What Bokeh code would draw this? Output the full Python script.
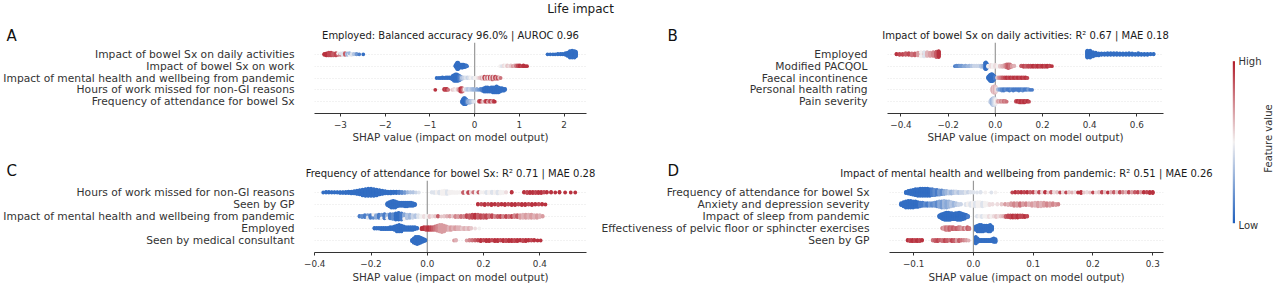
import numpy as np
from bokeh.plotting import figure
from bokeh.models import Range1d, FixedTicker, Span, ColumnDataSource, LinearColorMapper, GridBox
from bokeh.embed import file_html
from bokeh.resources import INLINE
from bokeh.core.properties import value

FONT = "DejaVu Sans"

# ---------------- texts ----------------
SUPTITLE = "Life impact"
XLABEL = "SHAP value (impact on model output)"
CBAR_LABEL = "Feature value"
CBAR_HIGH = "High"
CBAR_LOW = "Low"
LETTERS = ["A", "B", "C", "D"]

# ---------------- panel A ----------------
A_TITLE = "Employed: Balanced accuracy 96.0% | AUROC 0.96"
A_FEATURES = ["Impact of bowel Sx on daily activities", "Impact of bowel Sx on work",
              "Impact of mental health and wellbeing from pandemic",
              "Hours of work missed for non-GI reasons", "Frequency of attendance for bowel Sx"]
A_TICKS = [-3, -2, -1, 0, 1, 2]
A_TICK_LABELS = ["−3", "−2", "−1", "0", "1", "2"]
A_XLIM = (-3.58, 2.50)

# each row: (shap value, number of points, feature value 0=low..1=high)
a_daily = [(-3.36, 3, 0.95), (-3.31, 5, 0.95), (-3.26, 6, 0.9), (-3.21, 6, 0.9), (-3.16, 5, 0.85),
           (-3.10, 5, 0.9), (-3.05, 3, 0.8), (-3.05, 1, 0.5), (-3.00, 3, 0.75), (-3.00, 1, 0.45),
           (-2.95, 2, 0.65), (-2.95, 2, 0.45), (-2.90, 2, 0.55), (-2.90, 2, 0.85), (-2.85, 2, 0.5),
           (-2.85, 2, 0.3), (-2.80, 3, 0.5), (-2.80, 1, 0.3), (-2.75, 3, 0.45), (-2.70, 2, 0.35),
           (-2.64, 2, 0.2), (-2.58, 1, 0.1), (-2.49, 1, 0.05),
           (1.63, 1, 0.05), (1.69, 1, 0.05), (1.75, 1, 0.05), (1.80, 1, 0.05), (1.86, 2, 0.05),
           (1.92, 2, 0.05), (1.97, 2, 0.05), (2.03, 4, 0.05), (2.08, 7, 0.05), (2.13, 13, 0.05),
           (2.18, 14, 0.05), (2.23, 13, 0.05), (2.26, 10, 0.05)]
a_work = [(-0.43, 2, 0.05), (-0.41, 6, 0.05), (-0.39, 10, 0.05), (-0.37, 10, 0.05), (-0.35, 7, 0.05),
          (-0.33, 4, 0.05), (-0.31, 3, 0.05), (-0.29, 5, 0.05), (-0.27, 5, 0.05), (-0.25, 4, 0.05),
          (-0.23, 3, 0.05), (-0.21, 3, 0.05), (-0.19, 2, 0.05), (-0.17, 1, 0.08),
          (0.57, 1, 0.5), (0.61, 1, 0.45), (0.65, 2, 0.55), (0.69, 2, 0.5), (0.73, 2, 0.6),
          (0.77, 1, 0.55), (0.81, 2, 0.6), (0.85, 1, 0.7), (0.89, 2, 0.65), (0.93, 2, 0.8),
          (0.97, 2, 0.9), (1.01, 2, 0.95), (1.05, 1, 0.9), (1.09, 2, 0.95), (1.13, 1, 0.95), (1.17, 1, 0.95)]
a_mental = [(-0.85, 1, 0.05), (-0.80, 1, 0.05), (-0.76, 1, 0.05), (-0.72, 2, 0.05), (-0.68, 1, 0.05),
            (-0.64, 2, 0.05), (-0.60, 2, 0.05), (-0.56, 2, 0.05), (-0.52, 3, 0.05), (-0.49, 6, 0.05),
            (-0.46, 9, 0.05), (-0.43, 10, 0.05), (-0.40, 10, 0.05), (-0.37, 9, 0.05), (-0.34, 7, 0.1),
            (-0.31, 5, 0.2), (-0.28, 3, 0.35), (-0.24, 2, 0.4), (-0.20, 2, 0.45), (-0.16, 2, 0.4),
            (-0.12, 2, 0.45), (-0.08, 2, 0.5), (-0.04, 1, 0.45), (0.00, 1, 0.5), (0.04, 2, 0.5),
            (0.08, 1, 0.55), (0.12, 2, 0.6), (0.16, 3, 0.65), (0.19, 4, 0.55), (0.22, 4, 0.9),
            (0.25, 3, 0.6), (0.28, 4, 0.8), (0.31, 3, 0.55), (0.34, 4, 0.9), (0.37, 5, 0.6),
            (0.40, 5, 0.85), (0.43, 4, 0.6), (0.46, 4, 0.9), (0.49, 3, 0.7), (0.52, 3, 0.9),
            (0.55, 2, 0.6), (0.58, 1, 0.8)]
a_hours = [(-0.88, 1, 0.95), (-0.68, 2, 0.95), (-0.65, 2, 0.9), (-0.62, 2, 0.95), (-0.59, 1, 0.8),
           (-0.50, 1, 0.6), (-0.46, 2, 0.55), (-0.42, 1, 0.5), (-0.38, 2, 0.6), (-0.34, 3, 0.8),
           (-0.31, 5, 0.95), (-0.28, 5, 0.9), (-0.25, 3, 0.7), (-0.22, 2, 0.5), (-0.19, 2, 0.4),
           (-0.15, 2, 0.35), (-0.11, 2, 0.4), (-0.07, 2, 0.35), (-0.03, 2, 0.3), (0.01, 1, 0.3),
           (0.05, 2, 0.25), (0.09, 1, 0.2), (0.13, 2, 0.15), (0.17, 3, 0.1), (0.21, 5, 0.05),
           (0.25, 6, 0.05), (0.29, 6, 0.05), (0.33, 5, 0.05), (0.37, 6, 0.05), (0.41, 7, 0.05),
           (0.45, 7, 0.05), (0.49, 8, 0.05), (0.53, 7, 0.05), (0.57, 5, 0.05), (0.61, 4, 0.05),
           (0.65, 3, 0.05), (0.68, 2, 0.05)]
a_freq = [(-0.28, 3, 0.05), (-0.26, 6, 0.05), (-0.24, 8, 0.05), (-0.22, 8, 0.05), (-0.20, 7, 0.05),
          (-0.18, 5, 0.1), (-0.16, 3, 0.2), (-0.14, 3, 0.3), (-0.12, 3, 0.25), (-0.10, 3, 0.3),
          (-0.08, 2, 0.35), (-0.06, 2, 0.35), (-0.04, 2, 0.4), (-0.02, 1, 0.45),
          (0.10, 2, 0.9), (0.13, 2, 0.95), (0.17, 1, 0.7), (0.20, 1, 0.6), (0.24, 2, 0.9),
          (0.27, 2, 0.95), (0.30, 1, 0.6), (0.33, 2, 0.85), (0.36, 2, 0.9), (0.39, 1, 0.6),
          (0.42, 2, 0.9), (0.45, 1, 0.95)]
A_ROWS = [a_daily, a_work, a_mental, a_hours, a_freq]

# ---------------- panel B ----------------
B_TITLE = "Impact of bowel Sx on daily activities: R² 0.67 | MAE 0.18"
B_FEATURES = ["Employed", "Modified PACQOL", "Faecal incontinence", "Personal health rating", "Pain severity"]
B_TICKS = [-0.4, -0.2, 0.0, 0.2, 0.4, 0.6]
B_TICK_LABELS = ["−0.4", "−0.2", "0.0", "0.2", "0.4", "0.6"]
B_XLIM = (-0.457, 0.713)

b_employed = [(-0.419, 2, 0.95), (-0.406, 3, 0.9), (-0.393, 3, 0.9), (-0.380, 4, 0.85), (-0.367, 4, 0.9),
              (-0.354, 5, 0.8), (-0.341, 5, 0.85), (-0.328, 6, 0.7), (-0.315, 6, 0.65), (-0.315, 3, 0.5),
              (-0.302, 6, 0.6), (-0.302, 3, 0.45), (-0.289, 8, 0.65), (-0.276, 7, 0.7), (-0.263, 8, 0.75),
              (-0.250, 11, 0.85), (-0.240, 12, 0.95),
              (0.390, 14, 0.05), (0.402, 14, 0.05), (0.414, 9, 0.05), (0.426, 6, 0.05), (0.438, 5, 0.05),
              (0.450, 4, 0.05), (0.463, 4, 0.05), (0.476, 4, 0.05), (0.489, 4, 0.05), (0.502, 4, 0.05),
              (0.515, 4, 0.05), (0.528, 4, 0.05), (0.541, 4, 0.05), (0.554, 4, 0.05), (0.567, 4, 0.05),
              (0.580, 4, 0.05), (0.593, 3, 0.05), (0.606, 4, 0.05), (0.619, 3, 0.05), (0.632, 3, 0.05),
              (0.645, 3, 0.05), (0.658, 2, 0.05), (0.671, 2, 0.05)]
b_pacqol = [(-0.171, 1, 0.1), (-0.164, 2, 0.15), (-0.157, 2, 0.15), (-0.150, 2, 0.2), (-0.142, 2, 0.2),
            (-0.134, 1, 0.25), (-0.126, 2, 0.25), (-0.118, 1, 0.3), (-0.110, 2, 0.3), (-0.100, 2, 0.35),
            (-0.090, 2, 0.4), (-0.080, 2, 0.4), (-0.070, 2, 0.4), (-0.060, 3, 0.35), (-0.051, 3, 0.3),
            (-0.044, 10, 0.1), (-0.040, 12, 0.05), (-0.036, 8, 0.05),
            (-0.030, 3, 0.5), (-0.020, 4, 0.55), (-0.010, 5, 0.5), (0.000, 4, 0.55), (0.010, 3, 0.5),
            (0.020, 3, 0.6), (0.030, 3, 0.65), (0.040, 4, 0.7), (0.048, 6, 0.8), (0.055, 7, 0.85),
            (0.062, 6, 0.8), (0.070, 3, 0.7), (0.080, 2, 0.65),
            (0.110, 2, 0.85), (0.120, 3, 0.9), (0.130, 3, 0.85), (0.140, 3, 0.9), (0.150, 3, 0.9),
            (0.160, 3, 0.95), (0.170, 3, 0.9), (0.180, 3, 0.95), (0.190, 3, 0.9), (0.200, 3, 0.95),
            (0.210, 3, 0.9), (0.220, 3, 0.95), (0.230, 2, 0.9), (0.240, 1, 0.95)]
b_faecal = [(-0.030, 4, 0.05), (-0.026, 8, 0.05), (-0.022, 12, 0.05), (-0.018, 14, 0.05), (-0.014, 14, 0.05),
            (-0.010, 12, 0.05), (-0.006, 8, 0.05), (-0.002, 4, 0.1),
            (0.008, 2, 0.6), (0.014, 2, 0.7), (0.020, 2, 0.75), (0.026, 2, 0.8), (0.032, 2, 0.85),
            (0.040, 2, 0.9), (0.048, 2, 0.95), (0.056, 2, 0.9), (0.064, 2, 0.95), (0.072, 2, 0.9),
            (0.080, 2, 0.95), (0.088, 2, 0.9), (0.096, 2, 0.95), (0.104, 2, 0.9), (0.112, 2, 0.95),
            (0.120, 2, 0.9), (0.128, 2, 0.95), (0.136, 1, 0.9)]
b_health = [(-0.014, 4, 0.6), (-0.010, 8, 0.65), (-0.006, 10, 0.6), (-0.002, 10, 0.65), (0.002, 8, 0.6),
            (0.006, 4, 0.55),
            (0.012, 2, 0.3), (0.020, 2, 0.2), (0.028, 3, 0.15), (0.036, 3, 0.1), (0.044, 2, 0.15),
            (0.052, 2, 0.1), (0.060, 3, 0.1), (0.068, 2, 0.15), (0.076, 3, 0.1), (0.084, 2, 0.1),
            (0.092, 2, 0.1), (0.100, 3, 0.1), (0.108, 2, 0.1), (0.116, 3, 0.15), (0.124, 2, 0.1),
            (0.132, 2, 0.1), (0.140, 2, 0.2), (0.148, 1, 0.1), (0.156, 1, 0.1)]
b_pain = [(-0.021, 3, 0.4), (-0.017, 6, 0.35), (-0.013, 9, 0.3), (-0.009, 11, 0.35), (-0.005, 11, 0.4),
          (-0.001, 9, 0.45), (0.003, 6, 0.5), (0.007, 3, 0.55),
          (0.012, 2, 0.7), (0.018, 2, 0.65), (0.024, 2, 0.75), (0.030, 2, 0.7), (0.036, 2, 0.8),
          (0.042, 2, 0.75), (0.048, 1, 0.8),
          (0.088, 2, 0.9), (0.095, 2, 0.95), (0.102, 3, 0.9), (0.109, 3, 0.95), (0.116, 3, 0.9),
          (0.123, 3, 0.95), (0.130, 2, 0.9), (0.137, 2, 0.95), (0.143, 1, 0.9)]
B_ROWS = [b_employed, b_pacqol, b_faecal, b_health, b_pain]

# ---------------- panel C ----------------
C_TITLE = "Frequency of attendance for bowel Sx: R² 0.71 | MAE 0.28"
C_FEATURES = ["Hours of work missed for non-GI reasons", "Seen by GP",
              "Impact of mental health and wellbeing from pandemic", "Employed", "Seen by medical consultant"]
C_TICKS = [-0.4, -0.2, 0.0, 0.2, 0.4]
C_TICK_LABELS = ["−0.4", "−0.2", "0.0", "0.2", "0.4"]
C_XLIM = (-0.401, 0.566)

c_hours = [(-0.37, 1, 0.05), (-0.36, 2, 0.05), (-0.35, 2, 0.05), (-0.34, 2, 0.05), (-0.33, 2, 0.05),
           (-0.32, 2, 0.05), (-0.31, 3, 0.05), (-0.30, 3, 0.05), (-0.29, 3, 0.05), (-0.28, 4, 0.05),
           (-0.27, 5, 0.05), (-0.26, 6, 0.05), (-0.25, 8, 0.05), (-0.24, 10, 0.05), (-0.23, 13, 0.05),
           (-0.22, 15, 0.05), (-0.21, 16, 0.05), (-0.20, 16, 0.05), (-0.19, 15, 0.05), (-0.18, 13, 0.05),
           (-0.17, 10, 0.05), (-0.16, 8, 0.05), (-0.15, 6, 0.05), (-0.14, 5, 0.05), (-0.13, 5, 0.05),
           (-0.12, 4, 0.05), (-0.11, 4, 0.05), (-0.10, 4, 0.1), (-0.09, 3, 0.15), (-0.08, 3, 0.2),
           (-0.07, 2, 0.3), (-0.06, 2, 0.35), (-0.05, 2, 0.35), (-0.04, 1, 0.4), (-0.03, 1, 0.45),
           (0.016, 2, 0.45), (0.025, 3, 0.45), (0.034, 4, 0.5), (0.043, 5, 0.45), (0.052, 7, 0.5),
           (0.061, 8, 0.5), (0.070, 7, 0.45), (0.079, 5, 0.5), (0.088, 4, 0.5), (0.097, 3, 0.5),
           (0.106, 3, 0.5), (0.115, 2, 0.5),
           (0.128, 3, 0.85), (0.137, 2, 0.5), (0.146, 3, 0.9), (0.155, 2, 0.55), (0.164, 2, 0.8),
           (0.173, 3, 0.5), (0.182, 2, 0.85), (0.190, 2, 0.5), (0.200, 2, 0.5), (0.210, 3, 0.45),
           (0.220, 3, 0.5), (0.230, 4, 0.45), (0.240, 4, 0.5), (0.250, 5, 0.45), (0.260, 5, 0.5),
           (0.270, 3, 0.5), (0.280, 2, 0.55), (0.300, 2, 0.95),
           (0.344, 2, 0.95), (0.355, 3, 0.9), (0.365, 3, 0.95), (0.375, 3, 0.95), (0.385, 3, 0.9),
           (0.395, 3, 0.95), (0.405, 3, 0.95), (0.415, 2, 0.9), (0.425, 2, 0.95), (0.440, 2, 0.95),
           (0.455, 1, 0.95), (0.470, 2, 0.95), (0.490, 1, 0.95), (0.510, 1, 0.95), (0.526, 1, 0.95)]
c_gp = [(-0.142, 4, 0.05), (-0.135, 8, 0.05), (-0.128, 11, 0.05), (-0.121, 12, 0.05), (-0.114, 11, 0.05),
        (-0.107, 8, 0.05), (-0.100, 6, 0.05), (-0.093, 6, 0.05), (-0.086, 6, 0.05), (-0.079, 7, 0.05),
        (-0.072, 7, 0.05), (-0.065, 6, 0.05), (-0.058, 6, 0.05), (-0.051, 5, 0.05), (-0.044, 3, 0.05),
        (0.180, 2, 0.95), (0.192, 2, 0.9), (0.204, 3, 0.95), (0.216, 2, 0.9), (0.228, 3, 0.95),
        (0.240, 2, 0.95), (0.252, 3, 0.9), (0.264, 2, 0.95), (0.276, 3, 0.95), (0.288, 2, 0.9),
        (0.300, 3, 0.95), (0.312, 3, 0.95), (0.324, 2, 0.9), (0.336, 3, 0.95), (0.348, 3, 0.95),
        (0.360, 2, 0.9), (0.372, 3, 0.95), (0.384, 2, 0.95), (0.396, 2, 0.9), (0.408, 2, 0.95),
        (0.420, 1, 0.95)]
c_mental = [(-0.241, 2, 0.1), (-0.232, 3, 0.15), (-0.222, 4, 0.1), (-0.212, 4, 0.2), (-0.212, 1, 0.45),
            (-0.202, 5, 0.1), (-0.192, 5, 0.15), (-0.192, 1, 0.5), (-0.182, 5, 0.25), (-0.172, 6, 0.1),
            (-0.162, 6, 0.2), (-0.162, 1, 0.5), (-0.152, 8, 0.1), (-0.142, 6, 0.3), (-0.142, 1, 0.5),
            (-0.132, 8, 0.1), (-0.122, 9, 0.15), (-0.112, 11, 0.05), (-0.102, 12, 0.05), (-0.092, 11, 0.1),
            (-0.082, 8, 0.25), (-0.082, 1, 0.5), (-0.072, 7, 0.35), (-0.062, 6, 0.3), (-0.052, 5, 0.4),
            (-0.042, 4, 0.35), (-0.032, 4, 0.45), (-0.022, 3, 0.5),
            (-0.012, 3, 0.55), (-0.002, 3, 0.5), (0.008, 3, 0.6), (0.018, 2, 0.55), (0.028, 2, 0.6),
            (0.038, 2, 0.85), (0.050, 1, 0.6), (0.060, 2, 0.6), (0.070, 2, 0.65), (0.080, 2, 0.7),
            (0.090, 2, 0.6), (0.100, 3, 0.75), (0.110, 3, 0.7), (0.120, 3, 0.8), (0.130, 3, 0.75),
            (0.140, 4, 0.9), (0.150, 5, 0.85), (0.160, 6, 0.9), (0.170, 6, 0.95), (0.180, 6, 0.85),
            (0.190, 5, 0.9), (0.200, 5, 0.85), (0.210, 5, 0.9), (0.220, 4, 0.8), (0.230, 4, 0.9),
            (0.240, 3, 0.75), (0.250, 3, 0.85), (0.260, 3, 0.9), (0.270, 3, 0.75), (0.280, 3, 0.9),
            (0.290, 3, 0.8), (0.300, 3, 0.9), (0.310, 4, 0.75), (0.320, 4, 0.85), (0.330, 5, 0.7),
            (0.340, 6, 0.65), (0.350, 6, 0.7), (0.360, 6, 0.65), (0.370, 6, 0.7), (0.380, 5, 0.65),
            (0.390, 5, 0.7), (0.400, 4, 0.65), (0.410, 2, 0.7)]
c_employed = [(-0.188, 2, 0.05), (-0.180, 2, 0.05), (-0.172, 2, 0.05), (-0.164, 3, 0.05), (-0.156, 3, 0.05),
              (-0.148, 3, 0.05), (-0.140, 3, 0.05), (-0.132, 4, 0.05), (-0.124, 4, 0.05), (-0.116, 6, 0.05),
              (-0.108, 9, 0.05), (-0.100, 10, 0.05), (-0.092, 9, 0.05), (-0.084, 6, 0.05), (-0.076, 5, 0.05),
              (-0.068, 5, 0.05), (-0.060, 5, 0.05), (-0.052, 5, 0.05), (-0.044, 4, 0.05), (-0.036, 2, 0.05),
              (-0.020, 3, 0.95), (-0.012, 4, 0.95), (-0.004, 5, 0.9), (0.004, 5, 0.95), (0.012, 5, 0.9),
              (0.020, 5, 0.85), (0.028, 6, 0.8), (0.036, 8, 0.75), (0.044, 10, 0.7), (0.052, 11, 0.7),
              (0.060, 9, 0.7), (0.068, 6, 0.7), (0.076, 5, 0.65), (0.084, 5, 0.7), (0.092, 4, 0.65),
              (0.100, 4, 0.7), (0.108, 4, 0.65), (0.116, 4, 0.65), (0.124, 3, 0.6), (0.132, 3, 0.65),
              (0.140, 3, 0.6), (0.148, 3, 0.65), (0.156, 2, 0.6), (0.170, 1, 0.55), (0.185, 1, 0.5)]
c_consult = [(-0.054, 3, 0.05), (-0.048, 7, 0.05), (-0.042, 10, 0.05), (-0.036, 11, 0.05), (-0.030, 10, 0.05),
             (-0.024, 8, 0.05), (-0.018, 6, 0.05), (-0.012, 4, 0.05), (-0.007, 2, 0.05),
             (0.095, 1, 0.7), (0.102, 2, 0.65), (0.140, 1, 0.7), (0.150, 2, 0.75), (0.160, 2, 0.8),
             (0.170, 2, 0.85), (0.180, 2, 0.9), (0.190, 3, 0.95), (0.200, 2, 0.9), (0.210, 3, 0.95),
             (0.220, 3, 0.95), (0.230, 2, 0.9), (0.240, 3, 0.95), (0.250, 3, 0.95), (0.260, 2, 0.9),
             (0.270, 3, 0.95), (0.280, 3, 0.9), (0.290, 3, 0.95), (0.300, 3, 0.95), (0.310, 3, 0.9),
             (0.320, 3, 0.95), (0.330, 2, 0.95), (0.340, 3, 0.9), (0.350, 3, 0.95), (0.360, 2, 0.95),
             (0.370, 2, 0.9), (0.380, 2, 0.95), (0.392, 1, 0.95), (0.403, 1, 0.95)]
C_ROWS = [c_hours, c_gp, c_mental, c_employed, c_consult]

# ---------------- panel D ----------------
D_TITLE = "Impact of mental health and wellbeing from pandemic: R² 0.51 | MAE 0.26"
D_FEATURES = ["Frequency of attendance for bowel Sx", "Anxiety and depression severity",
              "Impact of sleep from pandemic", "Effectiveness of pelvic floor or sphincter exercises", "Seen by GP"]
D_TICKS = [-0.1, 0.0, 0.1, 0.2, 0.3]
D_TICK_LABELS = ["−0.1", "0.0", "0.1", "0.2", "0.3"]
D_XLIM = (-0.1404, 0.318)

d_freq = [(-0.113, 3, 0.05), (-0.109, 6, 0.05), (-0.105, 8, 0.05), (-0.101, 10, 0.05), (-0.097, 12, 0.05),
          (-0.093, 13, 0.05), (-0.089, 14, 0.05), (-0.085, 14, 0.05), (-0.081, 14, 0.05), (-0.077, 14, 0.05),
          (-0.073, 13, 0.05), (-0.069, 12, 0.1), (-0.065, 11, 0.15), (-0.061, 10, 0.1), (-0.057, 9, 0.2),
          (-0.053, 8, 0.15), (-0.049, 7, 0.25), (-0.045, 6, 0.3), (-0.041, 5, 0.35), (-0.037, 5, 0.3),
          (-0.033, 4, 0.35), (-0.029, 4, 0.4), (-0.025, 3, 0.35), (-0.021, 3, 0.4), (-0.017, 3, 0.4),
          (-0.013, 3, 0.45), (-0.009, 2, 0.4), (-0.005, 2, 0.45), (0.000, 2, 0.45), (0.006, 1, 0.45),
          (0.012, 2, 0.45), (0.020, 1, 0.5), (0.030, 1, 0.45), (0.037, 1, 0.5),
          (0.065, 1, 0.9), (0.070, 2, 0.95), (0.075, 2, 0.9), (0.080, 2, 0.95), (0.085, 2, 0.9),
          (0.090, 2, 0.95), (0.095, 2, 0.85), (0.100, 2, 0.9), (0.105, 2, 0.6), (0.110, 2, 0.9),
          (0.115, 2, 0.55), (0.120, 2, 0.95), (0.125, 1, 0.6), (0.130, 2, 0.85), (0.135, 2, 0.55),
          (0.140, 2, 0.6), (0.145, 1, 0.9), (0.150, 2, 0.55), (0.155, 1, 0.9), (0.160, 2, 0.6),
          (0.165, 1, 0.65), (0.170, 2, 0.55), (0.175, 1, 0.95), (0.180, 3, 0.95), (0.185, 1, 0.6),
          (0.190, 2, 0.55), (0.195, 1, 0.6), (0.200, 1, 0.9), (0.205, 1, 0.55), (0.210, 2, 0.6),
          (0.215, 2, 0.9), (0.220, 2, 0.6), (0.225, 1, 0.95), (0.230, 2, 0.65), (0.235, 2, 0.85),
          (0.240, 2, 0.6), (0.245, 2, 0.9), (0.250, 2, 0.75), (0.255, 2, 0.65), (0.260, 2, 0.9),
          (0.265, 2, 0.7), (0.270, 2, 0.85), (0.275, 2, 0.9), (0.280, 2, 0.7), (0.285, 2, 0.95),
          (0.290, 2, 0.9), (0.295, 3, 0.95), (0.300, 3, 0.95)]
d_anx = [(-0.121, 4, 0.05), (-0.117, 8, 0.05), (-0.113, 11, 0.05), (-0.109, 12, 0.05), (-0.105, 12, 0.05),
         (-0.101, 11, 0.05), (-0.097, 10, 0.05), (-0.093, 9, 0.05), (-0.089, 7, 0.1), (-0.085, 6, 0.1),
         (-0.081, 5, 0.15), (-0.077, 5, 0.1), (-0.073, 5, 0.2), (-0.069, 5, 0.15), (-0.065, 6, 0.2),
         (-0.061, 8, 0.15), (-0.057, 10, 0.25), (-0.053, 11, 0.2), (-0.049, 12, 0.3), (-0.045, 11, 0.25),
         (-0.041, 10, 0.3), (-0.037, 8, 0.35), (-0.033, 6, 0.3), (-0.029, 4, 0.35), (-0.025, 3, 0.4),
         (-0.021, 2, 0.4),
         (-0.013, 3, 0.45), (-0.009, 4, 0.5), (-0.005, 5, 0.45), (-0.001, 6, 0.5), (0.003, 7, 0.45),
         (0.007, 8, 0.5), (0.011, 8, 0.5), (0.015, 7, 0.45), (0.019, 6, 0.5), (0.023, 4, 0.5),
         (0.027, 3, 0.55), (0.032, 2, 0.55), (0.040, 2, 0.55), (0.047, 2, 0.6),
         (0.053, 2, 0.7), (0.058, 3, 0.65), (0.063, 4, 0.7), (0.068, 5, 0.75), (0.073, 5, 0.7),
         (0.078, 5, 0.8), (0.083, 4, 0.7), (0.088, 4, 0.75), (0.093, 4, 0.65), (0.098, 5, 0.7),
         (0.103, 6, 0.65), (0.108, 7, 0.7), (0.113, 7, 0.65), (0.118, 6, 0.7), (0.123, 5, 0.75),
         (0.128, 5, 0.7), (0.133, 4, 0.75), (0.138, 3, 0.7), (0.142, 2, 0.75)]
d_sleep = [(-0.057, 4, 0.05), (-0.054, 8, 0.05), (-0.051, 11, 0.05), (-0.048, 13, 0.05), (-0.045, 14, 0.05),
           (-0.042, 14, 0.05), (-0.039, 13, 0.05), (-0.036, 12, 0.05), (-0.033, 11, 0.05), (-0.030, 12, 0.05),
           (-0.027, 13, 0.05), (-0.024, 14, 0.05), (-0.021, 13, 0.05), (-0.018, 11, 0.05), (-0.015, 9, 0.05),
           (-0.012, 6, 0.05), (-0.009, 3, 0.1),
           (0.006, 2, 0.45), (0.010, 2, 0.5), (0.014, 3, 0.45), (0.018, 2, 0.5), (0.022, 3, 0.5),
           (0.026, 3, 0.55), (0.030, 3, 0.5), (0.034, 2, 0.55), (0.038, 3, 0.6), (0.042, 2, 0.55),
           (0.046, 2, 0.6), (0.050, 2, 0.65),
           (0.054, 3, 0.85), (0.058, 4, 0.9), (0.062, 5, 0.9), (0.066, 5, 0.95), (0.070, 5, 0.9),
           (0.074, 5, 0.95), (0.078, 4, 0.9), (0.082, 4, 0.9), (0.086, 3, 0.95), (0.090, 2, 0.9)]
d_pelvic = [(-0.052, 2, 0.75), (-0.049, 4, 0.7), (-0.046, 5, 0.8), (-0.043, 5, 0.75), (-0.040, 5, 0.85),
            (-0.037, 4, 0.8), (-0.034, 4, 0.85), (-0.031, 3, 0.8), (-0.028, 3, 0.85), (-0.025, 4, 0.8),
            (-0.022, 4, 0.75), (-0.019, 3, 0.7), (-0.016, 3, 0.8), (-0.013, 2, 0.65), (-0.010, 4, 0.85),
            (-0.007, 3, 0.8),
            (0.004, 6, 0.05), (0.007, 9, 0.05), (0.010, 10, 0.05), (0.013, 10, 0.05), (0.016, 9, 0.05),
            (0.019, 8, 0.05), (0.022, 8, 0.05), (0.025, 9, 0.05), (0.028, 10, 0.05), (0.031, 6, 0.05)]
d_gp = [(-0.110, 2, 0.95), (-0.106, 3, 0.9), (-0.102, 3, 0.95), (-0.098, 3, 0.9), (-0.094, 3, 0.95),
        (-0.090, 3, 0.9), (-0.086, 2, 0.95),
        (-0.068, 2, 0.8), (-0.064, 3, 0.85), (-0.060, 3, 0.9), (-0.056, 2, 0.85), (-0.052, 3, 0.8),
        (-0.048, 3, 0.9), (-0.044, 3, 0.85), (-0.040, 2, 0.8), (-0.036, 3, 0.9), (-0.032, 3, 0.85),
        (-0.028, 3, 0.7), (-0.024, 3, 0.85), (-0.020, 2, 0.8), (-0.016, 2, 0.75), (-0.012, 2, 0.7),
        (-0.008, 1, 0.65),
        (0.004, 10, 0.05), (0.007, 6, 0.05), (0.010, 3, 0.05), (0.013, 3, 0.05), (0.016, 3, 0.05),
        (0.019, 3, 0.05), (0.022, 3, 0.05), (0.025, 3, 0.05), (0.028, 3, 0.05), (0.031, 4, 0.05),
        (0.034, 6, 0.05), (0.037, 5, 0.05)]
D_ROWS = [d_freq, d_anx, d_sleep, d_pelvic, d_gp]


# ---------------- colour map (blue -> white -> red) ----------------
def build_palette(n=256):
    lo = np.array([31, 96, 190], float)
    mid = np.array([243, 241, 241], float)
    hi = np.array([178, 30, 44], float)
    out = []
    for u in np.linspace(0, 1, n):
        c = lo + (mid - lo) * (u / 0.5) if u < 0.5 else mid + (hi - mid) * ((u - 0.5) / 0.5)
        out.append("#%02x%02x%02x" % tuple(int(round(k)) for k in c))
    return out


PALETTE = build_palette()
MAPPER = LinearColorMapper(palette=PALETTE, low=0, high=1)


def swarm(entries, row):
    """Stack points sharing the same SHAP value vertically (beeswarm layout)."""
    xs, vs, ys = [], [], []
    layers = {}
    for x, n, v in entries:
        for _ in range(n):
            layer = layers.get(x, 0)
            off = np.ceil(layer / 2) * ((layer % 2) * 2 - 1)
            layers[x] = layer + 1
            xs.append(x)
            vs.append(v)
            ys.append(off)
    ys = np.array(ys, float)
    ys *= 0.9 * (0.4 / np.max(ys + 1))
    return xs, list(row + ys), vs


def panel(title, feats, rows, xlim, ticks, tick_labels, width, height, bl, br, bt, bb, lab_sd, axl_sd):
    n = len(feats)
    p = figure(width=width, height=height, x_range=Range1d(*xlim), y_range=Range1d(-1, n),
               output_backend="svg", toolbar_location=None, frame_align=False,
               min_border_left=bl, min_border_right=br, min_border_top=bt, min_border_bottom=bb)
    p.outline_line_color = None
    p.background_fill_color = None
    p.border_fill_color = None
    p.title.text = title
    p.title.align = "center"
    p.title.text_font = FONT
    p.title.text_font_size = "10px"
    p.title.text_font_style = "normal"
    p.title.text_color = "#1a1a1a"
    p.title.standoff = 4

    p.xgrid.visible = False
    p.ygrid.grid_line_color = "#d4d4d4"
    p.ygrid.grid_line_width = 0.6
    p.ygrid.grid_line_dash = "1 2"

    ax = p.xaxis[0]
    ax.ticker = FixedTicker(ticks=ticks)
    ax.major_label_overrides = {t: s for t, s in zip(ticks, tick_labels)}
    ax.axis_label = XLABEL
    ax.axis_label_text_font = FONT
    ax.axis_label_text_font_size = "10.4px"
    ax.axis_label_text_font_style = "normal"
    ax.axis_label_text_color = "#333333"
    ax.major_label_text_font = FONT
    ax.major_label_text_font_size = "8.8px"
    ax.major_label_text_color = "#333333"
    ax.axis_line_color = "#333333"
    ax.axis_line_width = 1
    ax.major_tick_line_color = "#333333"
    ax.major_tick_out = 3
    ax.major_tick_in = 0
    ax.minor_tick_line_color = None
    ax.major_label_standoff = lab_sd
    ax.axis_label_standoff = axl_sd

    ay = p.yaxis[0]
    ay.ticker = FixedTicker(ticks=list(range(n)))
    ay.major_label_overrides = {n - 1 - i: f for i, f in enumerate(feats)}
    ay.major_label_text_font = FONT
    ay.major_label_text_font_size = "10.7px"
    ay.major_label_text_color = "#333333"
    ay.axis_line_color = None
    ay.major_tick_line_color = None
    ay.minor_tick_line_color = None
    ay.major_tick_out = 0
    ay.major_tick_in = 0
    ay.major_label_standoff = 20

    p.add_layout(Span(location=0, dimension="height", line_color="#999999", line_width=1.2, level="underlay"))

    X, Y, V = [], [], []
    for i, entries in enumerate(rows):
        xs, ys, vs = swarm(entries, n - 1 - i)
        X += xs
        Y += ys
        V += vs
    src = ColumnDataSource(dict(x=X, y=Y, v=V))
    p.scatter(x="x", y="y", source=src, size=3.8, marker="circle",
              fill_color={"field": "v", "transform": MAPPER}, line_color=None)
    return p


# the page is drawn from the window's top-left corner: 1280 x 287 in total
pA = panel(A_TITLE, A_FEATURES, A_ROWS, A_XLIM, A_TICKS, A_TICK_LABELS, 640, 145, 311, 54, 42, 30, 4, 0)
pB = panel(B_TITLE, B_FEATURES, B_ROWS, B_XLIM, B_TICKS, B_TICK_LABELS, 640, 145, 247, 117, 42, 30, 4, 0)
pC = panel(C_TITLE, C_FEATURES, C_ROWS, C_XLIM, C_TICKS, C_TICK_LABELS, 598, 142, 311, 12, 35, 35, 4, 1)
pD = panel(D_TITLE, D_FEATURES, D_ROWS, D_XLIM, D_TICKS, D_TICK_LABELS, 682, 142, 289, 117, 35, 35, 4, 1)

# ---------------- overlay: super title, panel letters, colour bar ----------------
OW, OH = 1280, 287
ov = figure(width=OW, height=OH, x_range=Range1d(0, OW), y_range=Range1d(0, OH),
            output_backend="svg", toolbar_location=None, min_border=0, frame_align=False,
            x_axis_location=None, y_axis_location=None)
ov.grid.visible = False
ov.outline_line_color = None
ov.background_fill_alpha = 0
ov.border_fill_alpha = 0

ov.text(x=[580], y=[OH - 8], text=[SUPTITLE], text_font=value(FONT), text_font_size="12px",
        text_color="#1a1a1a", text_align="center", text_baseline="middle")
ov.text(x=[6, 667, 6, 667], y=[OH - 35, OH - 35, OH - 170.5, OH - 170.5], text=LETTERS,
        text_font=value(FONT), text_font_size="15px", text_color="#111111",
        text_align="left", text_baseline="alphabetic")
grad = np.linspace(0, 1, 256).reshape(-1, 1)
ov.image(image=[grad], x=1232.3, y=OH - 222.7, dw=2.2, dh=162, color_mapper=MAPPER)
ov.text(x=[1238, 1238], y=[OH - 61, OH - 225], text=[CBAR_HIGH, CBAR_LOW],
        text_font=value(FONT), text_font_size="10px", text_color="#333333",
        text_align="left", text_baseline="middle")
ov.text(x=[1268], y=[OH - 138], text=[CBAR_LABEL], angle=np.pi / 2,
        text_font=value(FONT), text_font_size="10px", text_color="#333333",
        text_align="center", text_baseline="middle")

grid = GridBox(children=[(pA, 0, 0, 1, 2), (pB, 0, 2, 1, 1), (pC, 1, 0, 1, 1), (pD, 1, 1, 1, 2),
                         (ov, 0, 0, 2, 3)])

open("out.html", "w").write(file_html(grid, INLINE))
